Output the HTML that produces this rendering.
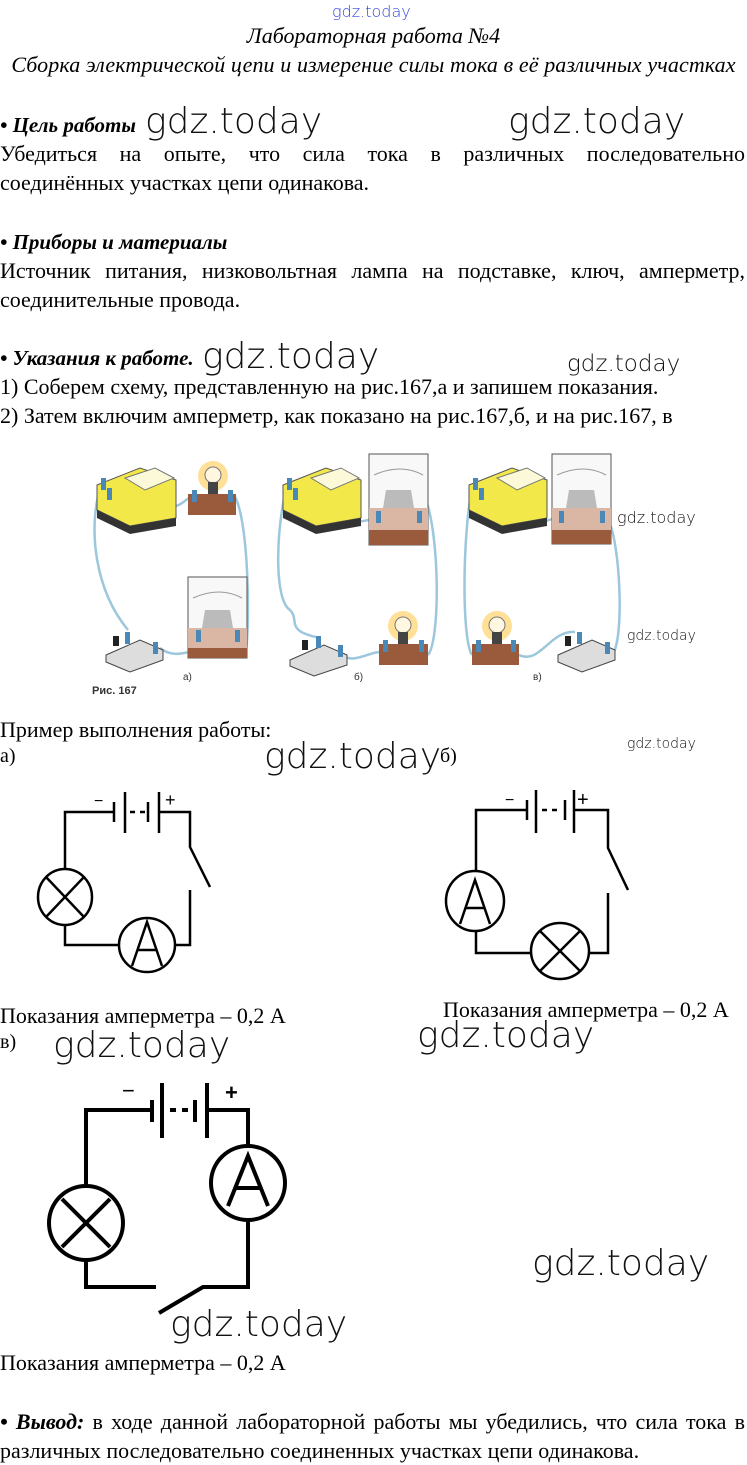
<!DOCTYPE html>
<html><head><meta charset="utf-8"><style>
body{margin:0;background:#fff;}
#p{position:relative;width:747px;height:1465px;overflow:hidden;background:#fff;font-family:"Liberation Serif","DejaVu Serif",serif;color:#000;}
.t{position:absolute;white-space:nowrap;font-size:22px;line-height:24px;}
.j{position:absolute;left:0;width:745px;font-size:22px;line-height:24px;text-align:justify;text-align-last:justify;white-space:nowrap;}
.w{position:absolute;white-space:nowrap;font-family:"DejaVu Sans","Liberation Sans",sans-serif;font-weight:200;color:#111;}
.it{font-style:italic;}
svg{position:absolute;left:0;top:0;}
</style></head><body><div id="p">
<div class="w" style="left:332px;top:2px;font-size:16px;color:#3344dd;">gdz.today</div>
<div class="t it" style="left:0;width:747px;text-align:center;top:24px;font-size:22px;">Лабораторная работа №4</div>
<div class="t it" style="left:0;width:747px;text-align:center;top:53px;font-size:22px;letter-spacing:0.1px;">Сборка электрической цепи и измерение силы тока в её различных участках</div>

<div class="t" style="left:0;top:113px;font-size:21px;"><b><i>• Цель работы</i></b></div>
<div class="w" style="left:145px;top:101px;font-size:36px;">gdz.today</div>
<div class="w" style="left:508px;top:101px;font-size:36px;">gdz.today</div>
<div class="j" style="top:142px;">Убедиться на опыте, что сила тока в различных последовательно</div>
<div class="t" style="left:0;top:171px;">соединённых участках цепи одинакова.</div>

<div class="t" style="left:0;top:230px;font-size:21px;"><b><i>• Приборы и материалы</i></b></div>
<div class="j" style="top:259px;">Источник питания, низковольтная лампа на подставке, ключ, амперметр,</div>
<div class="t" style="left:0;top:288px;">соединительные провода.</div>

<div class="t" style="left:0;top:346px;font-size:21px;"><b><i>• Указания к работе.</i></b></div>
<div class="w" style="left:202px;top:336px;font-size:36px;">gdz.today</div>
<div class="w" style="left:567px;top:351px;font-size:23px;">gdz.today</div>
<div class="t" style="left:0;top:375px;">1) Соберем схему, представленную на рис.167,а и запишем показания.</div>
<div class="t" style="left:0;top:404px;">2) Затем включим амперметр, как показано на рис.167,б, и на рис.167, в</div>

<svg width="747" height="1465" viewBox="0 0 747 1465">
<g fill="none" stroke="#9cc7dc" stroke-width="2.5">
<path d="M100 488 C 88 530, 95 590, 128 630"/>
<path d="M170 505 C 180 510, 188 495, 196 495"/>
<path d="M234 495 C 250 520, 250 640, 245 655"/>
<path d="M160 648 C 175 660, 190 650, 200 650"/>
<path d="M286 488 C 275 540, 275 600, 290 610 C 300 620, 285 630, 316 637"/>
<path d="M300 515 C 330 525, 360 525, 385 515"/>
<path d="M426 500 C 440 540, 440 640, 428 655"/>
<path d="M342 655 C 355 665, 370 650, 385 652"/>
<path d="M472 488 C 462 540, 462 640, 472 655"/>
<path d="M488 515 C 520 525, 545 525, 560 515"/>
<path d="M608 520 C 620 540, 625 640, 612 655"/>
<path d="M519 655 C 540 665, 550 630, 575 632"/>
</g>
<g>
<polygon points="97,485 140,468 176,480 176,518 130,526 97,510" fill="#f2e84a" stroke="#555" stroke-width="1"/>
<polygon points="97,510 130,526 176,518 176,526 130,534 97,518" fill="#333"/>
<polygon points="125,478 155,468 174,478 145,490" fill="#fbf9d8" stroke="#777" stroke-width="1"/>
<rect x="101" y="478" width="5" height="12" fill="#4a88b8"/><rect x="107" y="488" width="5" height="12" fill="#4a88b8"/>
<circle cx="213" cy="476" r="15" fill="#ffd36a" opacity="0.7"/><circle cx="213" cy="475" r="8" fill="#fff7df" stroke="#777"/>
<rect x="208" y="482" width="10" height="12" fill="#444"/>
<rect x="188" y="494" width="48" height="21" fill="#9a5a3c"/>
<rect x="192" y="490" width="5" height="12" fill="#4a88b8"/><rect x="228" y="490" width="5" height="12" fill="#4a88b8"/>
<rect x="188" y="577" width="59" height="81" fill="#f8f8f8" stroke="#555"/>
<path d="M193 598 q27 -12 49 0" stroke="#999" fill="none"/>
<polygon points="205,610 230,610 233,628 202,628" fill="#bbb"/>
<rect x="188" y="628" width="59" height="20" fill="#d9b7a4"/><rect x="188" y="648" width="59" height="10" fill="#9a5a3c"/>
<rect x="196" y="630" width="5" height="12" fill="#4a88b8"/><rect x="235" y="630" width="5" height="12" fill="#4a88b8"/>
<polygon points="106,655 140,640 163,650 163,660 130,672 106,662" fill="#ddd" stroke="#444"/>
<rect x="125" y="632" width="5" height="12" fill="#4a88b8"/><rect x="153" y="642" width="5" height="12" fill="#4a88b8"/><rect x="113" y="636" width="6" height="10" fill="#222"/>
</g>
<g>
<polygon points="283,485 326,468 361,480 361,518 316,526 283,510" fill="#f2e84a" stroke="#555"/>
<polygon points="283,510 316,526 361,518 361,526 316,534 283,518" fill="#333"/>
<polygon points="311,478 341,468 359,478 331,490" fill="#fbf9d8" stroke="#777"/>
<rect x="287" y="478" width="5" height="12" fill="#4a88b8"/><rect x="293" y="488" width="5" height="12" fill="#4a88b8"/>
<rect x="369" y="454" width="59" height="91" fill="#f8f8f8" stroke="#555"/>
<path d="M374 475 q27 -12 49 0" stroke="#999" fill="none"/>
<polygon points="386,490 411,490 414,508 383,508" fill="#bbb"/>
<rect x="369" y="508" width="59" height="22" fill="#d9b7a4"/><rect x="369" y="530" width="59" height="15" fill="#9a5a3c"/>
<rect x="376" y="511" width="5" height="12" fill="#4a88b8"/><rect x="417" y="511" width="5" height="12" fill="#4a88b8"/>
<polygon points="290,660 324,645 347,655 347,665 314,676 290,666" fill="#ddd" stroke="#444"/>
<rect x="316" y="636" width="5" height="12" fill="#4a88b8"/><rect x="338" y="645" width="5" height="12" fill="#4a88b8"/><rect x="302" y="640" width="6" height="10" fill="#222"/>
<circle cx="403" cy="626" r="15" fill="#ffd36a" opacity="0.7"/><circle cx="403" cy="625" r="8" fill="#fff7df" stroke="#777"/>
<rect x="398" y="632" width="10" height="12" fill="#444"/>
<rect x="379" y="644" width="49" height="21" fill="#9a5a3c"/>
<rect x="383" y="640" width="5" height="12" fill="#4a88b8"/><rect x="419" y="640" width="5" height="12" fill="#4a88b8"/>
</g>
<g>
<polygon points="469,485 512,468 547,480 547,518 502,526 469,510" fill="#f2e84a" stroke="#555"/>
<polygon points="469,510 502,526 547,518 547,526 502,534 469,518" fill="#333"/>
<polygon points="497,478 527,468 545,478 517,490" fill="#fbf9d8" stroke="#777"/>
<rect x="473" y="478" width="5" height="12" fill="#4a88b8"/><rect x="479" y="488" width="5" height="12" fill="#4a88b8"/>
<rect x="552" y="454" width="59" height="90" fill="#f8f8f8" stroke="#555"/>
<path d="M557 475 q27 -12 49 0" stroke="#999" fill="none"/>
<polygon points="569,490 594,490 597,508 566,508" fill="#bbb"/>
<rect x="552" y="508" width="59" height="22" fill="#d9b7a4"/><rect x="552" y="530" width="59" height="14" fill="#9a5a3c"/>
<rect x="559" y="511" width="5" height="12" fill="#4a88b8"/><rect x="600" y="511" width="5" height="12" fill="#4a88b8"/>
<circle cx="497" cy="626" r="15" fill="#ffd36a" opacity="0.7"/><circle cx="497" cy="625" r="8" fill="#fff7df" stroke="#777"/>
<rect x="492" y="632" width="10" height="12" fill="#444"/>
<rect x="472" y="644" width="47" height="21" fill="#9a5a3c"/>
<rect x="476" y="640" width="5" height="12" fill="#4a88b8"/><rect x="511" y="640" width="5" height="12" fill="#4a88b8"/>
<polygon points="558,655 592,640 615,650 615,660 582,672 558,662" fill="#ddd" stroke="#444"/>
<rect x="577" y="632" width="5" height="12" fill="#4a88b8"/><rect x="605" y="642" width="5" height="12" fill="#4a88b8"/><rect x="565" y="636" width="6" height="10" fill="#222"/>
</g>
<g font-family="Liberation Sans, sans-serif" font-size="10" fill="#333">
<text x="183" y="680">а)</text><text x="354" y="680">б)</text><text x="533" y="680">в)</text>
<text x="92" y="694" font-weight="bold" font-size="11">Рис. 167</text>
</g>

<g stroke="#000" stroke-width="2.5" fill="none">
<polyline points="114,812 65,812 65,869"/>
<line x1="114" y1="802" x2="114" y2="822"/><line x1="125" y1="792" x2="125" y2="833"/>
<line x1="130" y1="812" x2="135" y2="812"/><line x1="140" y1="812" x2="145" y2="812"/>
<line x1="148" y1="802" x2="148" y2="822"/><line x1="159" y1="792" x2="159" y2="833"/>
<polyline points="159,812 190,812 190,847 210,887"/>
<polyline points="190,890 190,945 175,945"/>
<ellipse cx="65" cy="897" rx="27" ry="28"/>
<line x1="46" y1="877" x2="84" y2="917"/><line x1="84" y1="877" x2="46" y2="917"/>
<polyline points="65,925 65,945 119,945"/>
<ellipse cx="147" cy="945" rx="28" ry="27"/>
<polyline points="132,966 147,922 162,966"/><line x1="138" y1="950" x2="156" y2="950"/>
</g>
<text x="94" y="806" font-family="Liberation Sans,sans-serif" font-size="16">−</text>
<text x="165" y="806" font-family="Liberation Sans,sans-serif" font-size="18">+</text>

<g stroke="#000" stroke-width="2.5" fill="none">
<polyline points="527,810 476,810 476,872"/>
<line x1="527" y1="800" x2="527" y2="820"/><line x1="536" y1="790" x2="536" y2="833"/>
<line x1="542" y1="810" x2="547" y2="810"/><line x1="552" y1="810" x2="557" y2="810"/>
<line x1="565" y1="800" x2="565" y2="820"/><line x1="574" y1="790" x2="574" y2="833"/>
<polyline points="574,810 608,810 608,848 628,890"/>
<polyline points="608,893 608,953 590,953"/>
<ellipse cx="475" cy="901" rx="29" ry="30"/>
<polyline points="460,924 475,880 490,924"/><line x1="466" y1="908" x2="484" y2="908"/>
<polyline points="476,931 476,953 531,953"/>
<ellipse cx="560" cy="951" rx="29" ry="28"/>
<line x1="540" y1="931" x2="580" y2="971"/><line x1="580" y1="931" x2="540" y2="971"/>
</g>
<text x="505" y="805" font-family="Liberation Sans,sans-serif" font-size="16">−</text>
<text x="577" y="806" font-family="Liberation Sans,sans-serif" font-size="20">+</text>

<g stroke="#000" stroke-width="4" fill="none">
<polyline points="152,1110 86,1110 86,1186"/>
<line x1="152" y1="1100" x2="152" y2="1122"/><line x1="162" y1="1083" x2="162" y2="1138"/>
<line x1="170" y1="1110" x2="176" y2="1110"/><line x1="182" y1="1110" x2="188" y2="1110"/>
<line x1="195" y1="1100" x2="195" y2="1122"/><line x1="207" y1="1083" x2="207" y2="1138"/>
<polyline points="207,1110 248,1110 248,1147"/>
<circle cx="248" cy="1183" r="37"/>
<polyline points="228,1206 248,1156 268,1206"/><line x1="236" y1="1188" x2="260" y2="1188"/>
<polyline points="248,1220 248,1287 203,1287 159,1313"/>
<circle cx="86" cy="1223" r="37"/>
<line x1="62" y1="1199" x2="110" y2="1247"/><line x1="110" y1="1199" x2="62" y2="1247"/>
<polyline points="86,1260 86,1287 156,1287"/>
</g>
<text x="122" y="1098" font-family="Liberation Sans,sans-serif" font-size="22">−</text>
<text x="225" y="1100" font-family="Liberation Sans,sans-serif" font-size="22" font-weight="bold">+</text>
</svg>

<div class="w" style="left:617px;top:508px;font-size:16px;">gdz.today</div>
<div class="w" style="left:627px;top:628px;font-size:14px;">gdz.today</div>
<div class="w" style="left:627px;top:736px;font-size:14px;">gdz.today</div>

<div class="t" style="left:0;top:718px;">Пример выполнения работы:</div>
<div class="t" style="left:0;top:744px;font-size:20px;">а)</div>
<div class="w" style="left:264px;top:736px;font-size:36px;">gdz.today</div>
<div class="t" style="left:440px;top:744px;font-size:20px;">б)</div>

<div class="t" style="left:0;top:1004px;">Показания амперметра – 0,2 А</div>
<div class="t" style="left:443px;top:998px;">Показания амперметра – 0,2 А</div>
<div class="t" style="left:0;top:1030px;font-size:20px;">в)</div>
<div class="w" style="left:53px;top:1025px;font-size:36px;">gdz.today</div>
<div class="w" style="left:417px;top:1015px;font-size:36px;">gdz.today</div>
<div class="w" style="left:532px;top:1243px;font-size:36px;">gdz.today</div>
<div class="w" style="left:170px;top:1304px;font-size:36px;">gdz.today</div>
<div class="t" style="left:0;top:1351px;">Показания амперметра – 0,2 А</div>

<div class="j" style="top:1410px;"><b><i>• Вывод:</i></b> в ходе данной лабораторной работы мы убедились, что сила тока в</div>
<div class="t" style="left:0;top:1439px;">различных последовательно соединенных участках цепи одинакова.</div>
</div></body></html>
